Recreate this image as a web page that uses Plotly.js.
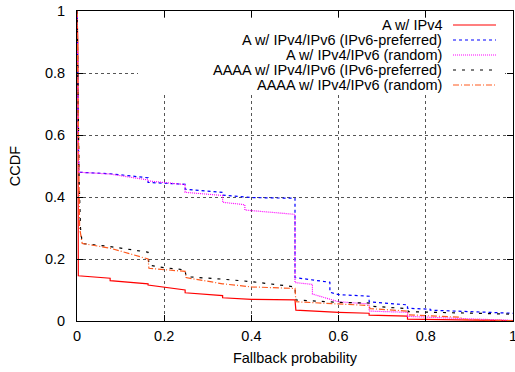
<!DOCTYPE html>
<html><head><meta charset="utf-8">
<script src="https://cdn.plot.ly/plotly-3.0.1.min.js"></script>
<style>html,body{margin:0;padding:0;background:#fff}#c{width:515px;height:372px}</style>
</head><body><div id="c"></div>
<script>
const seriesNames = ["A w/ IPv4", "A w/ IPv4/IPv6 (IPv6-preferred)", "A w/ IPv4/IPv6 (random)", "AAAA w/ IPv4/IPv6 (IPv6-preferred)", "AAAA w/ IPv4/IPv6 (random)"];
const xTicks = [0, 0.2, 0.4, 0.6, 0.8, 1];
const yTicks = [0, 0.2, 0.4, 0.6, 0.8, 1];

const redX = [0, 0.002, 0.003, 0.076, 0.076, 0.163, 0.163, 0.248, 0.248, 0.334, 0.334, 0.4, 0.5, 0.502, 0.6, 0.67, 0.67, 0.758, 0.758, 0.88, 1];
const redY = [1, 0.9, 0.146, 0.138, 0.13, 0.12, 0.116, 0.1, 0.091, 0.082, 0.075, 0.07, 0.068, 0.035, 0.028, 0.025, 0.019, 0.016, 0.006, 0.004, 0.001];

const blueX = [0, 0.002, 0.004, 0.076, 0.163, 0.163, 0.248, 0.248, 0.334, 0.334, 0.4, 0.5, 0.5, 0.58, 0.58, 0.6, 0.67, 0.67, 0.758, 0.758, 0.81, 0.81, 1];
const blueY = [1, 0.7, 0.48, 0.475, 0.462, 0.447, 0.441, 0.425, 0.415, 0.406, 0.398, 0.396, 0.14, 0.125, 0.093, 0.085, 0.08, 0.062, 0.052, 0.041, 0.038, 0.035, 0.025];

const magX = [0, 0.002, 0.004, 0.076, 0.163, 0.163, 0.248, 0.248, 0.334, 0.334, 0.385, 0.385, 0.5, 0.5, 0.54, 0.54, 0.6, 0.67, 0.67, 0.758, 0.758, 0.88, 1];
const magY = [1, 0.7, 0.48, 0.474, 0.455, 0.452, 0.44, 0.415, 0.405, 0.383, 0.375, 0.358, 0.344, 0.124, 0.118, 0.087, 0.062, 0.055, 0.032, 0.028, 0.015, 0.008, 0.002];

const blkX = [0, 0.002, 0.005, 0.008, 0.012, 0.076, 0.163, 0.165, 0.2, 0.248, 0.25, 0.334, 0.4, 0.5, 0.502, 0.6, 0.67, 0.672, 0.758, 0.76, 0.88, 1];
const blkY = [1, 0.75, 0.45, 0.3, 0.25, 0.24, 0.222, 0.18, 0.172, 0.165, 0.143, 0.135, 0.127, 0.11, 0.068, 0.06, 0.058, 0.048, 0.04, 0.03, 0.025, 0.022];

const orgX = [0, 0.003, 0.006, 0.012, 0.076, 0.163, 0.165, 0.248, 0.25, 0.334, 0.4, 0.5, 0.502, 0.6, 0.67, 0.672, 0.758, 0.76, 0.88, 0.882, 1];
const orgY = [1, 0.6, 0.3, 0.25, 0.235, 0.2, 0.17, 0.16, 0.14, 0.12, 0.11, 0.105, 0.062, 0.055, 0.05, 0.04, 0.032, 0.02, 0.012, 0.005, 0.001];

const colors = ["#ff0000", "#0000ff", "#ff00ff", "#000000", "#ff5a1e"];
const dashes = ["solid", "3px,3px", "1px,1px", "3px,6px", "6px,2px,1px,2px"];
const xs = [redX, blueX, magX, blkX, orgX];
const ys = [redY, blueY, magY, blkY, orgY];

const traces = seriesNames.map((n, i) => ({
  type: "scatter", mode: "lines", name: n, x: xs[i], y: ys[i],
  line: {color: colors[i], width: 1.2, dash: dashes[i]}, showlegend: false
}));

const rowsPx = [25, 40, 55, 70, 85];
const toPY = p => (321 - p) / 310;
const toPX = p => (p - 77) / 436;
const font = {family: "Liberation Sans, Arial, sans-serif", size: 14.5, color: "#000"};
const annotations = seriesNames.map((n, i) => ({
  xref: "paper", yref: "paper", x: toPX(444), y: toPY(rowsPx[i]),
  xanchor: "right", yanchor: "middle", text: n, showarrow: false,
  font: font
}));
const shapes = [{
  type: "rect", xref: "paper", yref: "paper", x0: toPX(138), x1: toPX(505), y0: toPY(93), y1: toPY(18),
  fillcolor: "#ffffff", line: {width: 0}, layer: "above"
}].concat(seriesNames.map((n, i) => ({
  type: "line", xref: "paper", yref: "paper", x0: toPX(453), x1: toPX(496),
  y0: toPY(rowsPx[i]), y1: toPY(rowsPx[i]),
  line: {color: colors[i], width: 1.2, dash: dashes[i]}
})));

const layout = {
  width: 515, height: 372,
  margin: {l: 77, r: 2, t: 11, b: 51},
  paper_bgcolor: "#fff", plot_bgcolor: "#fff",
  font: font, showlegend: false,
  xaxis: {range: [0, 1], tickvals: xTicks, ticktext: xTicks.map(String), ticks: "inside", ticklen: 6,
    tickcolor: "#000", showline: true, linecolor: "#000", linewidth: 1, mirror: "ticks",
    showgrid: true, gridcolor: "#555", griddash: "dot", gridwidth: 1, zeroline: false,
    ticklabeloverflow: "allow", ticklabelstandoff: 2,
    title: {text: "Fallback probability", font: font, standoff: 9}, tickfont: font},
  yaxis: {range: [0, 1], tickvals: yTicks, ticktext: yTicks.map(String), ticks: "inside", ticklen: 6,
    tickcolor: "#000", showline: true, linecolor: "#000", linewidth: 1, mirror: "ticks",
    showgrid: true, gridcolor: "#555", griddash: "dot", gridwidth: 1, zeroline: false,
    ticklabeloverflow: "allow", ticklabelstandoff: 8,
    title: {text: "CCDF", font: font, standoff: 20}, tickfont: font},
  annotations: annotations, shapes: shapes
};
Plotly.newPlot("c", traces, layout, {staticPlot: true, displayModeBar: false});
</script></body></html>
